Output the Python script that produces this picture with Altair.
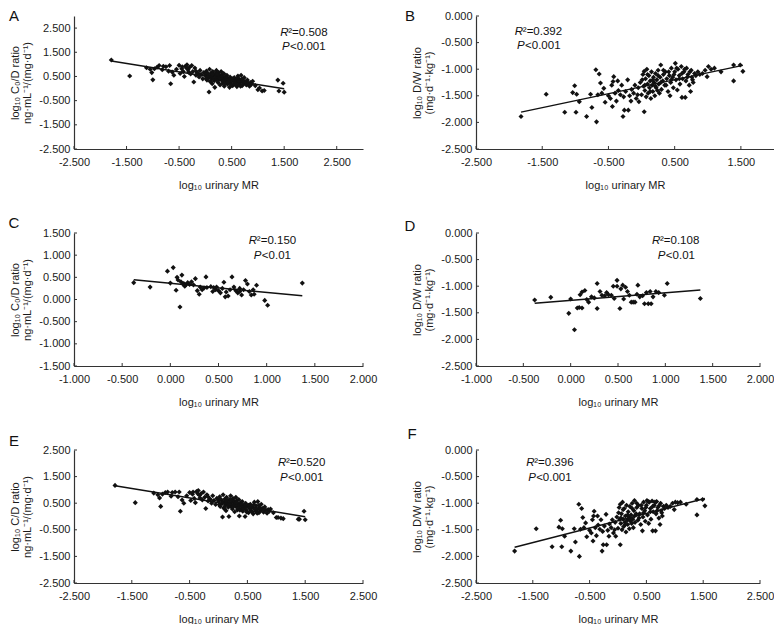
import altair as alt
import pandas as pd

FONT = "Liberation Sans"
INK = "#111111"

# ---------------- data ----------------
# Panels A / E : log10 urinary MR vs log10 C0/D (A) and C/D (E)
A_x = [-1.79, -1.44, -1.12, -1.05, -1.02, -1.00, -0.97, -0.92, -0.88, -0.82,
       -0.80, -0.75, -0.70, -0.68, -0.66, -0.63, -0.60, -0.55,
       -0.50, -0.48, -0.45, -0.42, -0.40, -0.38, -0.35, -0.33, -0.30, -0.28,
       -0.26, -0.24, -0.22, -0.20, -0.18, -0.15, -0.12, -0.10, -0.08, -0.05, -0.03,
       0.00, 0.02, 0.03, 0.05, 0.06, 0.07, 0.08, 0.09, 0.10, 0.11,
       0.12, 0.13, 0.14, 0.15, 0.16, 0.17, 0.18, 0.19, 0.20, 0.21,
       0.22, 0.23, 0.24, 0.25, 0.26, 0.27, 0.28, 0.29, 0.30, 0.31,
       0.32, 0.33, 0.34, 0.35, 0.36, 0.37, 0.38, 0.40, 0.41, 0.42,
       0.43, 0.45, 0.46, 0.47, 0.48, 0.50, 0.52, 0.53, 0.55, 0.56,
       0.58, 0.60, 0.61, 0.62, 0.64, 0.65, 0.67, 0.68, 0.70, 0.71,
       0.73, 0.74, 0.76, 0.78, 0.80, 0.82, 0.84, 0.86, 0.88, 0.90,
       0.95, 1.00, 1.03, 1.08, 1.12, 1.38, 1.40, 1.48, 1.50,
       0.01, 0.04, 0.07, 0.10, 0.13, 0.16, 0.19, 0.22, 0.25, 0.28,
       0.31, 0.34, 0.37, 0.40, 0.43, 0.46, 0.49, 0.52, 0.55, 0.58,
       0.61, 0.64, 0.67, 0.70, 0.73, -0.32, -0.36, -0.44, -0.18, -0.14]
A_y = [1.18, 0.52, 0.86, 0.80, 0.66, 0.36, 0.82, 0.88, 0.95, 0.78,
       0.92, 0.90, 0.72, 0.95, 0.20, 0.68, 0.55, 0.80,
       0.96, 0.62, 0.82, 0.70, 0.50, 0.92, 0.98, 0.78, 0.88, 0.60,
       0.95, 0.70, 0.27, 0.85, 0.55, 0.65, 0.48, 0.75, 0.58, 0.40, 0.66,
       0.55, 0.72, 0.35, 0.60, 0.45, -0.14, 0.80, 0.30, 0.52, 0.64,
       0.40, 0.20, 0.70, 0.48, 0.58, 0.32, 0.05, 0.62, 0.44, 0.75,
       0.36, 0.52, 0.25, 0.66, 0.42, 0.56, 0.15, 0.48, 0.70, 0.34,
       0.58, 0.22, 0.45, 0.62, 0.10, 0.38, 0.50, 0.28, 0.55, 0.18,
       0.40, 0.32, 0.05, 0.48, 0.22, 0.38, 0.12, 0.30, 0.45, 0.20,
       0.35, 0.08, 0.28, 0.52, 0.18, 0.38, 0.25, 0.55, 0.12, 0.32,
       0.20, 0.45, 0.28, 0.15, 0.35, 0.22, 0.10, 0.25, 0.18, 0.30,
       0.12, -0.05, 0.02, -0.10, -0.08, 0.35, -0.10, 0.22, -0.15,
       0.42, 0.62, 0.50, 0.28, 0.58, 0.40, 0.48, 0.60, 0.34, 0.42,
       0.50, 0.30, 0.22, 0.42, 0.26, 0.36, 0.14, 0.40, 0.28, 0.16,
       0.42, 0.30, 0.10, 0.40, 0.28, 0.68, 0.85, 0.90, 0.72, 0.62]
E_x = A_x
E_y = [1.17, 0.52, 0.88, 0.82, 0.70, 0.38, 0.84, 0.90, 0.92, 0.76,
       0.90, 0.92, 0.74, 0.92, 0.20, 0.62, 0.50, 0.78,
       0.90, 0.60, 0.84, 0.68, 0.52, 0.94, 0.98, 0.80, 0.86, 0.62,
       0.92, 0.72, 0.30, 0.82, 0.58, 0.66, 0.50, 0.78, 0.60, 0.45, 0.68,
       0.58, 0.74, 0.38, 0.62, 0.48, -0.02, 0.82, 0.32, 0.55, 0.66,
       0.42, 0.22, 0.72, 0.50, 0.60, 0.35, 0.00, 0.64, 0.46, 0.78,
       0.38, 0.54, 0.28, 0.68, 0.44, 0.58, 0.18, 0.50, 0.72, 0.36,
       0.60, 0.25, 0.47, 0.64, 0.02, 0.40, 0.52, 0.30, 0.56, 0.20,
       0.42, 0.34, 0.00, 0.50, 0.24, 0.40, 0.14, 0.32, 0.46, 0.22,
       0.36, 0.10, 0.30, 0.54, 0.20, 0.40, 0.26, 0.56, 0.14, 0.34,
       0.22, 0.46, 0.30, 0.16, 0.36, 0.24, 0.12, 0.26, 0.20, 0.28,
       0.14, -0.04, -0.04, -0.06, -0.08, -0.10, -0.10, 0.20, -0.12,
       0.45, 0.64, 0.52, 0.30, 0.60, 0.42, 0.50, 0.62, 0.36, 0.44,
       0.52, 0.32, 0.24, 0.44, 0.28, 0.38, 0.16, 0.42, 0.30, 0.18,
       0.44, 0.32, 0.12, 0.42, 0.30, 0.70, 0.86, 0.92, 0.74, 0.64]

# Panels B / F : log10 urinary MR vs log10 D/W
B_x = [-1.82, -1.44, -1.16, -1.04, -1.01, -0.98, -0.99, -0.94, -0.83, -0.77,
       -0.75, -0.69, -0.68, -0.66, -0.64, -0.62, -0.60, -0.57, -0.55, -0.50,
       -0.47, -0.45, -0.44, -0.43, -0.42, -0.40, -0.38, -0.35, -0.32, -0.30,
       -0.28, -0.27, -0.26, -0.24, -0.21, -0.20, -0.18, -0.15, -0.12, -0.10,
       -0.08, -0.05, -0.04, -0.02,
       0.00, 0.02, 0.03, 0.04, 0.04, 0.05, 0.06, 0.07, 0.08, 0.09,
       0.10, 0.11, 0.12, 0.13, 0.14, 0.15, 0.16, 0.17, 0.18, 0.19,
       0.20, 0.21, 0.22, 0.23, 0.24, 0.25, 0.26, 0.28, 0.29, 0.30,
       0.32, 0.33, 0.35, 0.36, 0.38, 0.40, 0.42, 0.44, 0.45, 0.47,
       0.48, 0.50, 0.51, 0.52, 0.54, 0.55, 0.57, 0.58, 0.60, 0.61,
       0.62, 0.64, 0.66, 0.67, 0.68, 0.70, 0.72, 0.74, 0.75, 0.76,
       0.78, 0.80, 0.82, 0.85, 0.88, 0.92, 0.96, 0.99, 1.01, 1.05,
       1.10, 1.20, 1.39, 1.39, 1.49, 1.53,
       0.01, 0.05, 0.09, 0.13, 0.17, 0.21, 0.25, 0.29, 0.33, 0.37,
       0.41, 0.45, 0.49, 0.53, 0.57, 0.61, 0.65, 0.69, 0.73, 0.77,
       -0.36, -0.16, -0.06, 0.27, 0.43]
B_y = [-1.89, -1.47, -1.81, -1.44, -1.31, -1.47, -1.81, -1.61, -1.89, -1.47,
       -1.72, -1.01, -1.99, -1.48, -1.09, -1.26, -1.45, -1.36, -1.62, -1.50,
       -1.55, -1.30, -1.70, -1.23, -1.14, -1.45, -1.60, -1.40, -1.48, -1.30,
       -1.89, -1.52, -1.77, -1.42, -1.20, -1.77, -1.50, -1.38, -1.45, -1.30,
       -1.55, -1.35, -1.61, -1.25,
       -1.48, -1.10, -1.32, -1.04, -1.80, -1.40, -1.18, -1.52, -1.00, -1.28,
       -1.45, -1.12, -1.35, -1.22, -1.55, -1.05, -1.30, -1.42, -1.15, -1.25,
       -1.50, -1.08, -1.35, -1.20, -1.40, -1.02, -1.28, -1.15, -0.92, -1.38,
       -1.22, -1.10, -1.30, -1.05, -1.18, -1.42, -1.12, -1.25, -0.98, -1.15,
       -1.35, -1.05, -0.89, -1.20, -1.39, -1.00, -1.12, -1.28, -0.95, -1.53,
       -1.18, -1.05, -1.53, -1.22, -0.98, -1.10, -1.30, -1.42, -1.02, -1.15,
       -1.25, -1.08, -1.12, -1.05, -1.10, -1.08, -1.02, -1.14, -0.95, -1.00,
       -0.98, -1.05, -0.92, -1.22, -0.92, -1.04,
       -1.20, -1.30, -1.10, -1.42, -1.20, -1.32, -1.12, -1.25, -1.02, -1.30,
       -1.05, -1.20, -1.10, -0.98, -1.18, -1.08, -1.00, -1.15, -1.05, -1.20,
       -1.22, -1.60, -1.48, -1.45, -1.50]
F_x = B_x
F_y = [-1.90, -1.48, -1.82, -1.45, -1.32, -1.48, -1.82, -1.62, -1.90, -1.48,
       -1.73, -1.02, -2.00, -1.49, -1.10, -1.27, -1.46, -1.37, -1.63, -1.51,
       -1.56, -1.31, -1.71, -1.24, -1.15, -1.46, -1.61, -1.41, -1.49, -1.31,
       -1.90, -1.53, -1.78, -1.43, -1.21, -1.78, -1.51, -1.39, -1.46, -1.31,
       -1.56, -1.36, -1.62, -1.26,
       -1.47, -1.08, -1.30, -1.02, -1.78, -1.38, -1.20, -1.50, -0.98, -1.30,
       -1.44, -1.10, -1.36, -1.24, -1.54, -1.04, -1.32, -1.40, -1.16, -1.26,
       -1.48, -1.06, -1.34, -1.22, -1.38, -1.00, -1.30, -1.14, -0.95, -1.36,
       -1.20, -1.08, -1.32, -1.04, -1.20, -1.40, -1.10, -1.26, -0.98, -1.14,
       -1.34, -1.04, -0.95, -1.22, -1.38, -0.98, -1.10, -1.30, -0.96, -1.52,
       -1.16, -1.04, -1.52, -1.20, -0.97, -1.08, -1.28, -1.40, -1.00, -1.14,
       -1.24, -1.06, -1.10, -1.04, -1.08, -1.06, -1.00, -1.12, -0.98, -0.99,
       -0.98, -1.02, -0.93, -1.22, -0.93, -1.05,
       -1.18, -1.28, -1.12, -1.40, -1.22, -1.30, -1.10, -1.24, -1.00, -1.28,
       -1.04, -1.18, -1.08, -0.97, -1.16, -1.06, -0.98, -1.14, -1.04, -1.18,
       -1.24, -1.62, -1.50, -1.46, -1.52]

# Panel C : log10 urinary MR vs log10 C0/D (subgroup)
C_x = [-0.38, -0.21, -0.03, 0.00, 0.03, 0.06, 0.07, 0.08, 0.10, 0.11,
       0.12, 0.13, 0.14, 0.16, 0.18, 0.20, 0.22, 0.26, 0.28, 0.30,
       0.31, 0.33, 0.37, 0.38, 0.42, 0.45, 0.48, 0.50, 0.52, 0.54,
       0.556, 0.57, 0.60, 0.62, 0.64, 0.66, 0.68, 0.70, 0.72, 0.74,
       0.76, 0.78, 0.80, 0.82, 0.84, 0.87, 0.895, 0.98, 1.01, 1.37,
       0.15, 0.24, 0.35, 0.44, 0.58, 0.72, 0.86, 0.47]
C_y = [0.38, 0.28, 0.64, 0.37, 0.72, 0.21, 0.50, 0.44, -0.17, 0.40,
       0.55, 0.35, 0.36, 0.33, 0.38, 0.34, 0.40, 0.47, 0.20, 0.12,
       0.28, 0.22, 0.51, 0.27, 0.29, 0.27, 0.28, 0.20, 0.15, 0.25,
       0.39, 0.06, 0.08, 0.22, 0.51, 0.28, 0.20, 0.15, 0.25, 0.10,
       0.22, 0.43, 0.35, 0.18, 0.10, 0.12, 0.32, -0.02, -0.13, 0.37,
       0.30, 0.33, 0.26, 0.18, 0.17, 0.18, 0.22, 0.22]

# Panel D : log10 urinary MR vs log10 D/W (subgroup)
D_x = [-0.38, -0.21, -0.02, 0.00, 0.04, 0.07, 0.09, 0.12, 0.10, 0.12,
       0.15, 0.17, 0.19, 0.22, 0.28, 0.28, 0.31, 0.33, 0.36, 0.40,
       0.43, 0.46, 0.45, 0.49, 0.49, 0.52, 0.55, 0.58, 0.60, 0.62,
       0.64, 0.66, 0.68, 0.71, 0.73, 0.76, 0.78, 0.80, 0.82, 0.84,
       0.85, 0.87, 0.90, 0.99, 1.02, 1.37,
       0.25, 0.38, 0.53, 0.56, 0.70, 0.93]
D_y = [-1.26, -1.21, -1.51, -1.24, -1.82, -1.41, -1.40, -1.41, -1.16, -1.11,
       -1.08, -1.25, -1.30, -1.20, -0.95, -1.42, -1.10, -1.17, -1.18, -1.16,
       -1.17, -1.23, -1.00, -0.89, -1.00, -1.42, -0.98, -1.02, -1.10, -1.17,
       -1.30, -1.30, -1.30, -0.98, -1.20, -1.18, -1.33, -1.12, -1.33, -1.10,
       -1.33, -1.20, -1.10, -1.17, -0.95, -1.23,
       -1.22, -1.12, -1.05, -1.24, -1.15, -1.12]

# statistics printed in each panel and where they sit (data units, left edge)
STATS_R2 = ["0.508", "0.392", "0.150", "0.108", "0.520", "0.396"]
STATS_P = ["0.001", "0.001", "0.01", "0.01", "0.001", "0.001"]
STAT_R_X = [1.425, -1.914, 0.815, 0.859, 1.03, -1.616]
STAT_R_Y = [2.30, -0.30, 1.327, -0.144, 2.004, -0.248]
STAT_P_X = [1.46, -1.88, 0.867, 0.921, 1.064, -1.582]
STAT_P_Y = [1.72, -0.566, 0.991, -0.423, 1.444, -0.528]

# axis ticks
TICKS_WIDE = [-2.5, -1.5, -0.5, 0.5, 1.5, 2.5]
TICKS_B_X = [-2.5, -1.5, -0.5, 0.5, 1.5]
TICKS_SUB_X = [-1.0, -0.5, 0.0, 0.5, 1.0, 1.5, 2.0]
TICKS_DW_Y = [-2.5, -2.0, -1.5, -1.0, -0.5, 0.0]
TICKS_C_Y = [-1.5, -1.0, -0.5, 0.0, 0.5, 1.0, 1.5]

X_TITLE = "log\u2081\u2080 urinary MR"
Y_TITLE_C0D = ["log\u2081\u2080 C\u2080/D ratio", "ng\u00b7mL\u207b\u00b9/(mg\u00b7d\u207b\u00b9)"]
Y_TITLE_CD = ["log\u2081\u2080 C/D ratio", "ng\u00b7mL\u207b\u00b9/(mg\u00b7d\u207b\u00b9)"]
Y_TITLE_DW = ["log\u2081\u2080 D/W ratio", "(mg\u00b7d\u207b\u00b9\u00b7kg\u207b\u00b9)"]

LABEL_EXPR = "replace(format(datum.value, '.3f'), '\u2212', '-')"
TICK_LEN = 3


def panel(idx, letter, xs, ys, xdom, xticks, ydom, yticks, ytitle, w, h, lx, ly):
    df = pd.DataFrame({"x": xs, "y": ys})
    xsc = alt.Scale(domain=xdom, nice=False, zero=False)
    ysc = alt.Scale(domain=ydom, nice=False, zero=False)
    xax = alt.Axis(values=xticks, labelExpr=LABEL_EXPR, title=X_TITLE,
                   labelOverlap=False, tickCount=len(xticks))
    yax = alt.Axis(values=yticks, labelExpr=LABEL_EXPR, title=ytitle,
                   labelOverlap=False, tickCount=len(yticks))
    X = alt.X("x:Q", scale=xsc, axis=xax)
    Y = alt.Y("y:Q", scale=ysc, axis=yax)
    base = alt.Chart(df)
    pts = base.mark_point(shape="diamond", filled=True, size=26, color=INK, opacity=1).encode(x=X, y=Y)
    fit = base.transform_regression("x", "y").mark_line(color=INK, strokeWidth=1.5).encode(x=X, y=Y)
    ann = pd.DataFrame({
        "x": [STAT_R_X[idx], STAT_P_X[idx]],
        "y": [STAT_R_Y[idx], STAT_P_Y[idx]],
        "lead": ["R", "P"],
        "rest": ["\u00b2=" + STATS_R2[idx], "<" + STATS_P[idx]],
    })
    lead = alt.Chart(ann).mark_text(align="left", baseline="middle", fontStyle="italic",
                                    font=FONT, fontSize=11.5, color=INK).encode(
        x=X, y=Y, text="lead:N")
    rest = alt.Chart(ann).mark_text(align="left", baseline="middle", dx=8,
                                    font=FONT, fontSize=11.5, color=INK).encode(
        x=X, y=Y, text="rest:N")
    # inward tick marks, as in the original figure
    xt = alt.Chart(pd.DataFrame({"x": xticks})).mark_rule(color="#333333", strokeWidth=1).encode(
        x=X, y=alt.value(h), y2=alt.value(h - TICK_LEN))
    yt = alt.Chart(pd.DataFrame({"y": yticks})).mark_rule(color="#333333", strokeWidth=1).encode(
        y=Y, x=alt.value(0), x2=alt.value(TICK_LEN))
    tag = alt.Chart(pd.DataFrame({"t": [letter]})).mark_text(
        align="center", baseline="middle", font=FONT, fontSize=15, color=INK).encode(
        text="t:N", x=alt.value(lx), y=alt.value(ly))
    return alt.layer(pts, fit, xt, yt, lead, rest, tag).properties(width=w, height=h)


H = 133
pA = panel(0, "A", A_x, A_y, [-2.5, 3.0], TICKS_WIDE, [-2.5, 3.0], TICKS_WIDE, Y_TITLE_C0D, 289, H, -60, 0)
pB = panel(1, "B", B_x, B_y, [-2.5, 2.0], TICKS_B_X, [-2.5, 0.0], TICKS_DW_Y, Y_TITLE_DW, 298, H, -66, 0)
pC = panel(2, "C", C_x, C_y, [-1.0, 2.0], TICKS_SUB_X, [-1.5, 1.5], TICKS_C_Y, Y_TITLE_C0D, 289, H, -60, -10)
pD = panel(3, "D", D_x, D_y, [-1.0, 2.0], TICKS_SUB_X, [-2.5, 0.0], TICKS_DW_Y, Y_TITLE_DW, 284, H, -66, -7)
pE = panel(4, "E", E_x, E_y, [-2.5, 2.5], TICKS_WIDE, [-2.5, 2.5], TICKS_WIDE, Y_TITLE_CD, 289, H, -60, -9)
pF = panel(5, "F", F_x, F_y, [-2.5, 2.5], TICKS_WIDE, [-2.5, 0.0], TICKS_DW_Y, Y_TITLE_DW, 284, H, -64, -16)

chart = alt.concat(
    pA, pB, pC, pD, pE, pF,
    columns=2,
    spacing={"row": 84, "column": 113},
    bounds="flush",
).properties(
    padding={"top": 1, "left": 0, "right": 0, "bottom": 0},
    background="white",
).configure_view(
    stroke=None,
).configure_axis(
    grid=False,
    ticks=False,
    labelOverlap=False,
    labelFlush=False,
    domainColor="#333333",
    domainWidth=1.2,
    labelFont=FONT,
    labelFontSize=11,
    labelColor="#1a1a1a",
    titleFont=FONT,
    titleFontSize=11,
    titleFontWeight="normal",
    titleColor="#1a1a1a",
).configure_axisX(
    labelPadding=7,
    titlePadding=12,
).configure_axisY(
    labelPadding=4,
    titlePadding=6,
    titleLineHeight=12,
)

chart.save("out.html", embed_options={"renderer": "svg", "actions": False})
